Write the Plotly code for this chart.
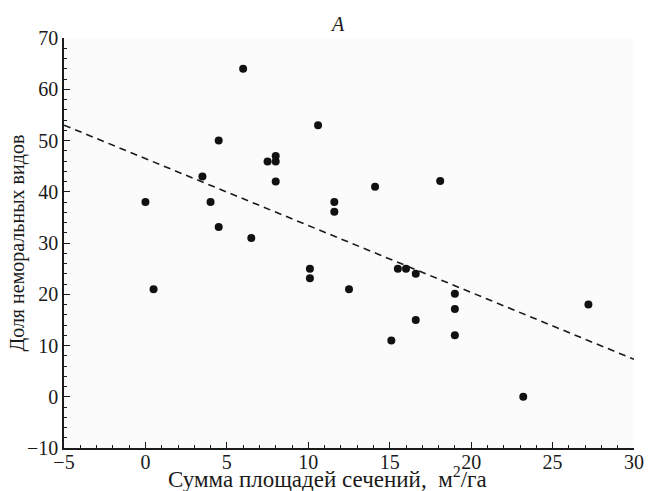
import plotly.graph_objects as go

# Data
basal_area = [0.0, 0.5, 3.5, 4.0, 4.5, 4.5, 6.0, 6.5, 7.5, 8.0, 8.0, 8.0,
              10.1, 10.1, 10.6, 11.6, 11.6, 12.5, 14.1, 15.1, 15.5, 16.0,
              16.6, 16.6, 18.1, 19.0, 19.0, 19.0, 23.2, 27.2]
nemoral_share = [38.0, 21.0, 43.0, 38.0, 50.0, 33.1, 64.0, 31.0, 45.9, 47.0, 45.9, 42.0,
                 25.0, 23.1, 53.0, 38.0, 36.1, 21.0, 41.0, 11.0, 25.0, 25.0,
                 24.0, 15.0, 42.1, 20.1, 17.1, 12.0, 0.0, 18.0]
trend_x = [-5, 30]
trend_y = [53.0, 7.3]

x_ticks = [-5, 0, 5, 10, 15, 20, 25, 30]
y_ticks = [-10, 0, 10, 20, 30, 40, 50, 60, 70]

FONT = "Times New Roman, Liberation Serif, DejaVu Serif, serif"
INK = "#1a1a1a"

fig = go.Figure()
fig.add_trace(go.Scatter(x=trend_x, y=trend_y, mode="lines",
                         line=dict(color=INK, width=1.6, dash="7px,5px"),
                         hoverinfo="skip", showlegend=False))
fig.add_trace(go.Scatter(x=basal_area, y=nemoral_share, mode="markers",
                         marker=dict(color="#111111", size=8),
                         showlegend=False))

fig.update_layout(
    width=650, height=491,
    margin=dict(l=64, r=16, t=38, b=43, autoexpand=False),
    paper_bgcolor="white", plot_bgcolor="#fbfbfb",
    font=dict(family=FONT, size=19, color=INK),
    annotations=[
        dict(text="<i>A</i>", xref="paper", yref="paper", x=0.48, y=1,
             xanchor="center", yanchor="bottom", yshift=1, showarrow=False,
             font=dict(family=FONT, size=20, color=INK)),
        dict(text="Сумма площадей сечений,  м<sup>2</sup>/га", xref="paper", yref="paper",
             x=0.462, y=0, xanchor="center", yanchor="top", yshift=-13, showarrow=False,
             font=dict(family=FONT, size=23, color=INK)),
        dict(text="Доля неморальных видов", xref="paper", yref="paper",
             x=0, y=0.5, xanchor="right", yanchor="middle", xshift=-34, textangle=-90,
             showarrow=False, font=dict(family=FONT, size=20, color=INK)),
    ],
)
fig.update_xaxes(
    range=[-5, 30], tickvals=x_ticks,
    showline=True, linecolor=INK, linewidth=1.5, mirror=False,
    showgrid=False, zeroline=False, automargin=False,
    ticks="inside", ticklen=6, tickwidth=1, tickcolor=INK,
    minor=dict(dtick=1, tick0=0, ticks="inside", ticklen=3, tickcolor=INK, showgrid=False),
    tickfont=dict(family=FONT, size=20, color=INK),
    ticklabelstandoff=-5,
)
fig.update_yaxes(
    range=[-10, 70], tickvals=y_ticks,
    showline=True, linecolor=INK, linewidth=1.5, mirror=False,
    showgrid=False, zeroline=False, automargin=False,
    ticks="inside", ticklen=6, tickwidth=1, tickcolor=INK,
    minor=dict(dtick=2, tick0=0, ticks="inside", ticklen=3, tickcolor=INK, showgrid=False),
    tickfont=dict(family=FONT, size=20, color=INK),
)

fig.write_html("out.html", config={"displayModeBar": False},
               post_script="document.body.style.margin='0';")
